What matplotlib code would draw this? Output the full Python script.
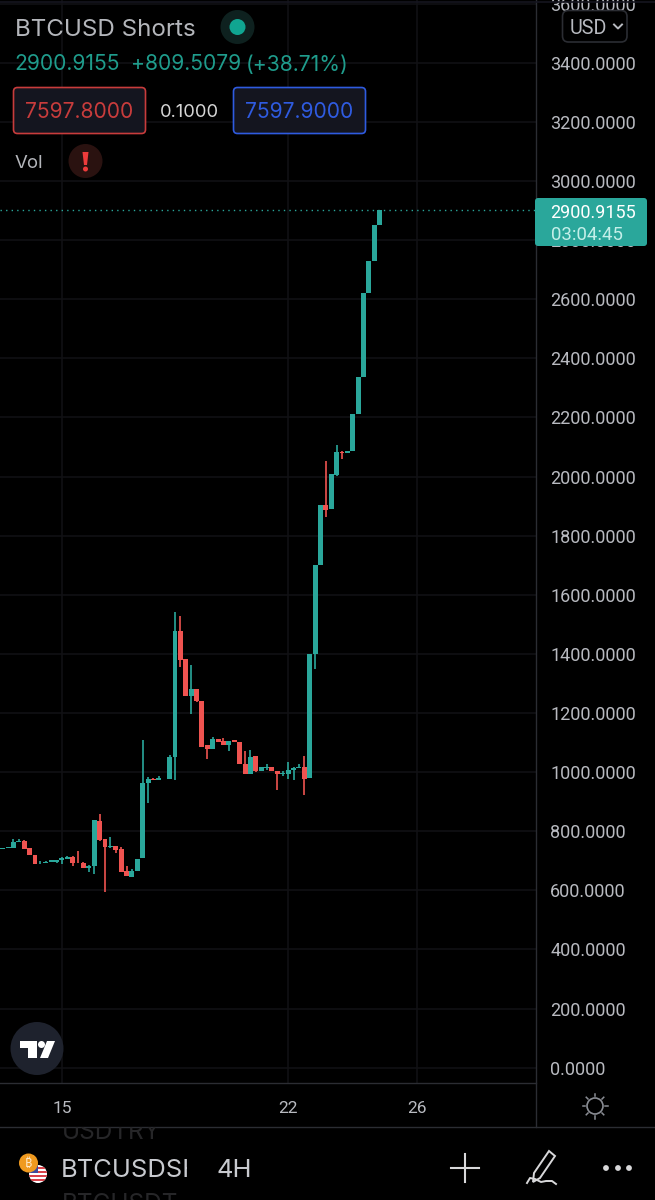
import matplotlib
matplotlib.use("Agg")
import matplotlib.pyplot as plt
from matplotlib.patches import Circle, Ellipse, FancyBboxPatch, Polygon, Rectangle
from matplotlib.ticker import FixedLocator, FixedFormatter

plt.rcParams['font.family'] = ['Roboto', 'DejaVu Sans']

opens = [738.7,742,743,763,767,742,720.6,691,692.5,696,697,701.5,707,714,694,694,675,682,836,774,
         747,749,740,665,645,666.5,709,964,977,972,978,977,1050,1478.5,1381.5,1257.5,1282,1241.7,1090.6,1078,
         1112,1104,1092.8,1107.5,1100.7,1028.5,994.7,1054.5,1002.6,1015,1018.4,1003,993.6,993.6,1006,1015,1017.3,979,1400.6,1700,
         1902,1889,2006.2,2084,2080.6,2086.3,2212.6,2337.8,2622,2729,2852]
highs = [742,747.7,775,774,770,742,720.6,699,699,702,702,714,716,716,732,696,686,839,857,774,
         779,749,748,683,672,666.5,1108.6,982.3,981.2,988,978,1057.8,1540.5,1528,1381.5,1362.3,1282,1241.7,1090.6,1118.8,
         1112,1116.5,1106.3,1107.5,1100.7,1071.4,1075.9,1054.5,1017.3,1026.3,1018.4,1003,1002.6,1033,1018.4,1028.5,1055.6,1400.6,1700,1902,
         2052.4,2009.6,2106.6,2087.4,2086,2212.6,2337.8,2622,2729,2852,2900.9]
lows = [738.7,742,743,762,740,719.5,690,690,692,695,692.5,688,707,683,691,674,662,654,768,595.5,
        744,727,663,647,645,666,709,896.6,972.2,972,975.5,977,973.3,1356.7,1257.5,1197.7,1236,1083.8,1045.4,1078,
        1101.8,1091.7,1072.5,1100.7,1028.5,994.7,994.7,1000.4,1002.6,1007,1003.7,938.3,986.8,977.8,973.3,1015,922.6,979,1347.7,1700,
        1864,1889,2002.8,2059,2080.6,2086.3,2212.6,2337.8,2622,2729,2852]
closes = [742,745.5,763.5,768,740,719.5,690,694,696,701,701.5,709.4,713,691,691,674,683,837,770,748,
          749,738,663,647,666.5,705,964,976.7,972.2,981.2,975.5,1050,1478.5,1380.4,1257.5,1282.3,1241.7,1083.8,1078.2,1112,
          1101.8,1091.7,1106.3,1100.7,1028.5,994.7,1050,1002.6,1017.3,1017.3,1003.7,994.7,998,1006,1015,1017.3,977.8,1400.6,1700,1902.5,
          1886.7,2009.6,2084,2078.4,2086,2212.6,2337.8,2622,2729,2852,2900.9]

price_ticks = [0,200,400,600,800,1000,1200,1400,1600,1800,2000,2200,2400,2600,2800,3000,3200,3400,3600]
date_ticks = [11, 53, 77]
date_labels = ['15', '22', '26']
last_price = 2900.9155

BG = '#000000'
GRID = '#111215'
LINE = '#2b2d33'
TEAL = '#2AA79B'
RED = '#EF5350'
LABEL = '#b8bac0'
UI_FONT = ['Inter', 'DejaVu Sans']

W, H = 655, 1200
fig = plt.figure(figsize=(W/100, H/100), dpi=100, facecolor=BG)

# price pane: left 0..535.5 px, top 0..1083.3 px
ax = fig.add_axes([0, 1-1083.3/H, 535.5/W, 1083.3/H], facecolor=BG)
ax.set_xlim(-2.67/5.386, (535.5-2.67)/5.386)
ax.set_ylim(-52.8, 3612)

ax.yaxis.tick_right()
ax.yaxis.set_major_locator(FixedLocator(price_ticks))
ax.yaxis.set_major_formatter(FixedFormatter([f'{p:.4f}' for p in price_ticks]))
ax.xaxis.set_major_locator(FixedLocator(date_ticks))
ax.xaxis.set_major_formatter(FixedFormatter(date_labels))
ax.tick_params(axis='y', length=0, pad=10.5, labelsize=13, labelcolor=LABEL)
ax.tick_params(axis='x', length=0, pad=13, labelsize=12.5, labelcolor=LABEL)
ax.grid(True, color=GRID, lw=1.1, zorder=0)
ax.set_axisbelow(True)
for s in ['top', 'left']:
    ax.spines[s].set_visible(False)
for s in ['right', 'bottom']:
    ax.spines[s].set_color(LINE)
    ax.spines[s].set_linewidth(1.0)

idx = list(range(len(opens)))
cols = [TEAL if c >= o else RED for o, c in zip(opens, closes)]
ax.vlines(idx, lows, highs, colors=cols, lw=1.2, zorder=3)
ax.bar(idx, [abs(c-o) for o, c in zip(opens, closes)], bottom=[min(o, c) for o, c in zip(opens, closes)],
       width=0.92, color=cols, linewidth=0, zorder=4)
ax.axhline(last_price, color=TEAL, lw=1.0, ls=(0, (1, 3)), zorder=2)

# interface overlay in pixel coordinates
ui = fig.add_axes([0, 0, 1, 1], facecolor='none')
ui.set_xlim(0, W)
ui.set_ylim(H, 0)
ui.axis('off')

def box(x0, y0, x1, y1, fc, ec='none', lw=1.2, r=4, z=5):
    p = FancyBboxPatch((x0+r, y0+r), x1-x0-2*r, y1-y0-2*r, boxstyle=f'round,pad={r},rounding_size={r}',
                       fc=fc, ec=ec, lw=lw, zorder=z)
    ui.add_patch(p)

def txt(x, y, s, size, color, ha='left', family=None, **kw):
    return ui.text(x, y, s, fontsize=size, color=color, ha=ha, va='center_baseline', zorder=8,
                   family=family or UI_FONT, **kw)

# header
ui.add_line(plt.Line2D([0, W], [2, 2], color='#15151f', lw=1.2))
txt(15, 27, 'BTCUSD Shorts', 17.4, '#b4b6bb')
ui.add_patch(Circle((237.5, 27), 17, fc='#0e211f', ec='none', zorder=5))
ui.add_patch(Circle((237.5, 27), 8, fc='#10A591', ec='none', zorder=6))
txt(14, 62.5, '2900.9155', 15.2, '#1F9C8C')
txt(131, 62.5, '+809.5079', 15.2, '#1F9C8C')
txt(246, 62.5, '(+38.71%)', 15.2, '#1F9C8C')

box(13.5, 87.5, 145.5, 133.5, '#14151f', '#C83C3C')
txt(79.5, 110.5, '7597.8000', 15.2, '#C83C3C', ha='center')
txt(189.5, 110.5, '0.1000', 13.2, '#d6d6d6', ha='center')
box(233.5, 87.5, 365.5, 133.5, '#14151f', '#2F5BE0')
txt(299.5, 110.5, '7597.9000', 15.2, '#2F5BE0', ha='center')

txt(15, 162, 'Vol', 13.4, '#b4b6bb')
ui.add_patch(Circle((85.5, 161), 17, fc='#2a1210', ec='none', zorder=5))
ui.add_patch(Polygon([(82.5, 152), (88.5, 152), (87, 165), (84, 165)], closed=True, fc='#EE3B3B', ec='none', zorder=6))
ui.add_patch(Circle((85.5, 169), 2.5, fc='#EE3B3B', ec='none', zorder=6))

# currency button
box(562.5, 10.5, 627, 42, BG, '#2b2d33', lw=1.2, r=6)
txt(570, 27, 'USD', 14.2, '#b8bac0', family=['Roboto'])
ui.plot([614, 618, 622], [24.5, 28.5, 24.5], color='#b8bac0', lw=1.4, zorder=8)

# last price tag
box(535, 198, 647, 246, TEAL, r=3)
txt(550.5, 211, '2900.9155', 13, '#ffffff', family=['Roboto'])
txt(550.5, 233, '03:04:45', 13.4, '#c4efe9', family=['Roboto'])

# logo
ui.add_patch(Ellipse((37, 1048.5), 53, 53, fc='#1e222d', ec='none', zorder=5))
ui.add_patch(Polygon([(20, 1041), (37, 1041), (37, 1058), (28, 1058), (28, 1048), (20, 1048)], closed=True, fc='white', ec='none', zorder=6))
ui.add_patch(Circle((41.5, 1044.5), 3.5, fc='white', ec='none', zorder=6))
ui.add_patch(Polygon([(47, 1041), (55, 1041), (48, 1058), (40, 1058)], closed=True, fc='white', ec='none', zorder=6))

# separators and sun icon
ui.plot([0, W], [1127, 1127], color=LINE, lw=1.0, zorder=3)
ui.plot([535.5, 535.5], [1083, 1127], color=LINE, lw=1.0, zorder=3)
sun = '#8a8d94'
ui.add_patch(Circle((595, 1106), 8, fc='none', ec=sun, lw=1.2, zorder=6))
for dx, dy in [(0, -1), (0, 1), (1, 0), (-1, 0), (.7, .7), (-.7, .7), (.7, -.7), (-.7, -.7)]:
    ui.plot([595+dx*10, 595+dx*12.5], [1106+dy*10, 1106+dy*12.5], color=sun, lw=1.1, zorder=6)

# bottom toolbar
clip_top = Rectangle((0, 1127), W, 73, transform=ui.transData)
t = txt(62, 1130, 'USDTRY', 17.6, '#262628')
t.set_clip_path(clip_top)
t.set_clip_on(True)
t = txt(62, 1202, 'BTCUSDT', 17.6, '#262628')
clip_main = Rectangle((0, 1127), 187, 73, transform=ui.transData)
t = txt(61, 1168, 'BTCUSDSHORTS', 18.4, '#c8cacf')
t.set_clip_path(clip_main)
t.set_clip_on(True)
txt(216, 1168, '4H', 18.4, '#c8cacf')

flag = Circle((38, 1174), 9, fc='white', ec='none', zorder=5)
ui.add_patch(flag)
for yy in [1167, 1171, 1175, 1179]:
    r = ui.add_patch(Rectangle((28, yy), 20, 2, fc='#D8424A', ec='none', zorder=6))
    r.set_clip_path(flag)
r = ui.add_patch(Rectangle((28, 1164), 10, 9, fc='#3a4a9a', ec='none', zorder=6))
r.set_clip_path(flag)
ui.add_patch(Ellipse((28.5, 1163), 19, 19, fc='#F09A1F', ec='none', zorder=7))
ui.text(28.5, 1163, '₿', fontsize=9, color='#ffe9c8', ha='center', va='center',
        family=['Noto Sans', 'Open Sans', 'Lato', 'Inter', 'Liberation Sans', 'Noto Sans CJK SC', 'DejaVu Sans'], zorder=8)

tool = '#d8d8da'
ui.plot([465, 465], [1154, 1182], color=tool, lw=1.5, zorder=6)
ui.plot([451, 479], [1168, 1168], color=tool, lw=1.5, zorder=6)
ui.add_patch(Polygon([(549, 1151), (555, 1156), (540, 1178), (533, 1182), (534, 1173)], closed=True, fc='none', ec=tool, lw=1.4, zorder=6))
ui.plot([527, 530, 535, 541, 546, 552, 556], [1183, 1178, 1179, 1182, 1181, 1181, 1184], color=tool, lw=1.4, zorder=6)
for cx in [606, 618, 629]:
    ui.add_patch(Circle((cx, 1168), 2.9, fc=tool, ec='none', zorder=6))

fig.savefig('out.png', dpi=100, facecolor=BG)
